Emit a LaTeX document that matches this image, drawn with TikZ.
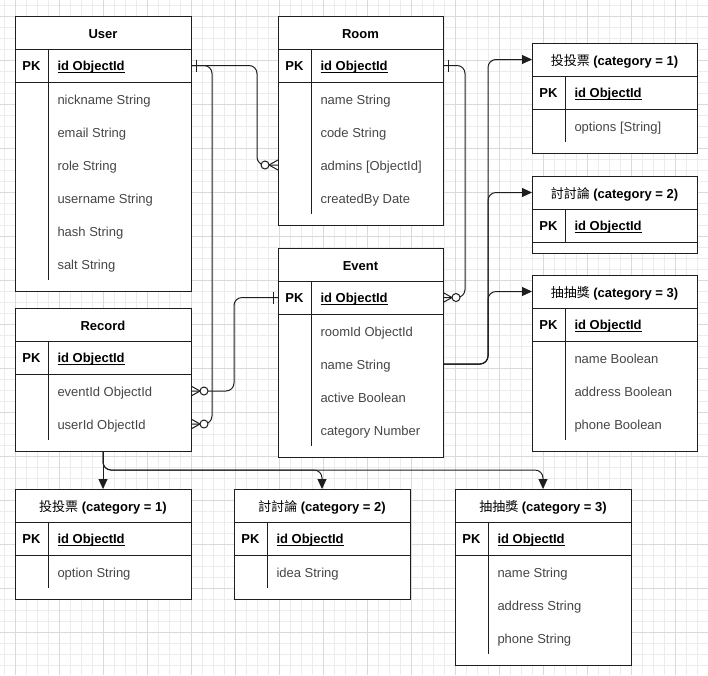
\documentclass[tikz,border=0pt]{standalone}
\usepackage{fontspec}
\setmainfont{Liberation Sans}
\newfontfamily\cjk{Noto Sans CJK TC}
\usetikzlibrary{arrows.meta,positioning}

\definecolor{gridminor}{RGB}{236,236,236}
\definecolor{gridmajor}{RGB}{218,218,218}
\definecolor{fieldgray}{RGB}{70,70,70}
\definecolor{edge}{RGB}{30,30,30}

\begin{document}
\begin{tikzpicture}[x=1pt, y=-1pt, line width=1pt, draw=edge,
  font=\fontsize{13}{15}\selectfont,
  head/.style={draw, fill=white, minimum height=33, inner sep=0pt, outer sep=0pt, text height=12.5pt, text depth=0pt, font=\fontsize{13}{15}\selectfont\bfseries},
  row/.style={draw, fill=white, minimum height=33, inner sep=0pt, outer sep=0pt},
  pk/.style={inner sep=0pt, text height=11.5pt, text depth=1pt, font=\fontsize{13}{15}\selectfont\bfseries},
  key/.style={anchor=west, inner sep=0pt, text height=11.5pt, text depth=1pt, font=\fontsize{13}{15}\selectfont\bfseries},
  field/.style={anchor=west, inner sep=0pt, text height=11.5pt, text depth=1pt, text=fieldgray},
  link/.style={draw=edge, rounded corners=8},
  flow/.style={draw=edge, rounded corners=8, -{Triangle[length=10pt, width=9pt]}},
  minorline/.style={line width=0.6pt, draw=gridminor},
  majorline/.style={line width=0.6pt, draw=gridmajor},
  onebar/.pic={\draw[edge] (5,-6) -- (5,6);},
  zeromany/.pic={
    \draw[edge] (0,-5) -- (9,0) -- (0,5);
    \draw[edge, fill=white] (13,0) circle (4);
  }]

  % Fix the page size
  \useasboundingbox (0,0) rectangle (708,675);

  % Background grid
  \foreach \x in {4,15,...,708} \draw[minorline] (\x,0) -- (\x,675);
  \foreach \y in {5,16,...,675} \draw[minorline] (0,\y) -- (708,\y);
  \foreach \x in {15,59,...,708} \draw[majorline] (\x,0) -- (\x,675);
  \foreach \y in {16,60,...,675} \draw[majorline] (0,\y) -- (708,\y);

  % User table
  \node[head, minimum width=176] (user) at (103,32.5) {User};
  \node[row, minimum width=176, below=0pt of user] (user-pk) {};
  \node[row, minimum width=176, minimum height=209, below=0pt of user-pk] (user-body) {};
  \node[pk] (user-pklabel) at ([xshift=16.5]user-pk.west) {PK};
  \node[key] (user-id) at ([xshift=42]user-pk.west) {\underline{\smash{id ObjectId}}};
  \draw ([xshift=33]user-pk.north west) -- ([xshift=33,yshift=11]user-body.south west);
  \foreach \f [count=\i] in {nickname String, email String, role String, username String, hash String, salt String}
    \node[field] (user-\i) at ([xshift=42,yshift=-33*\i+16]user-body.north west) {\f};

  % Room table
  \node[head, minimum width=165] (room) at (360.5,32.5) {Room};
  \node[row, minimum width=165, below=0pt of room] (room-pk) {};
  \node[row, minimum width=165, minimum height=143, below=0pt of room-pk] (room-body) {};
  \node[pk] (room-pklabel) at ([xshift=16.5]room-pk.west) {PK};
  \node[key] (room-id) at ([xshift=42]room-pk.west) {\underline{\smash{id ObjectId}}};
  \draw ([xshift=33]room-pk.north west) -- ([xshift=33,yshift=11]room-body.south west);
  \foreach \f [count=\i] in {name String, code String, admins [ObjectId], createdBy Date}
    \node[field] (room-\i) at ([xshift=42,yshift=-33*\i+16]room-body.north west) {\f};

  % Event table
  \node[head, minimum width=165] (event) at (360.5,264.5) {Event};
  \node[row, minimum width=165, below=0pt of event] (event-pk) {};
  \node[row, minimum width=165, minimum height=143, below=0pt of event-pk] (event-body) {};
  \node[pk] (event-pklabel) at ([xshift=16.5]event-pk.west) {PK};
  \node[key] (event-id) at ([xshift=42]event-pk.west) {\underline{\smash{id ObjectId}}};
  \draw ([xshift=33]event-pk.north west) -- ([xshift=33,yshift=11]event-body.south west);
  \foreach \f [count=\i] in {roomId ObjectId, name String, active Boolean, category Number}
    \node[field] (event-\i) at ([xshift=42,yshift=-33*\i+16]event-body.north west) {\f};

  % Record table
  \node[head, minimum width=176] (record) at (103,324.5) {Record};
  \node[row, minimum width=176, below=0pt of record] (record-pk) {};
  \node[row, minimum width=176, minimum height=77, below=0pt of record-pk] (record-body) {};
  \node[pk] (record-pklabel) at ([xshift=16.5]record-pk.west) {PK};
  \node[key] (record-id) at ([xshift=42]record-pk.west) {\underline{\smash{id ObjectId}}};
  \draw ([xshift=33]record-pk.north west) -- ([xshift=33,yshift=11]record-body.south west);
  \foreach \f [count=\i] in {eventId ObjectId, userId ObjectId}
    \node[field] (record-\i) at ([xshift=42,yshift=-33*\i+16]record-body.north west) {\f};

  % Event categories (right column)
  \node[head, minimum width=165] (evote) at (614.5,59.5) {{\cjk\mdseries 投投票} (category = 1)};
  \node[row, minimum width=165, below=0pt of evote] (evote-pk) {};
  \node[row, minimum width=165, minimum height=44, below=0pt of evote-pk] (evote-body) {};
  \node[pk] (evote-pklabel) at ([xshift=16.5]evote-pk.west) {PK};
  \node[key] (evote-id) at ([xshift=42]evote-pk.west) {\underline{\smash{id ObjectId}}};
  \draw ([xshift=33]evote-pk.north west) -- ([xshift=33,yshift=11]evote-body.south west);
  \node[field] (evote-1) at ([xshift=42,yshift=-17]evote-body.north west) {options [String]};

  \node[head, minimum width=165] (ediscuss) at (614.5,192.5) {{\cjk\mdseries 討討論} (category = 2)};
  \node[row, minimum width=165, below=0pt of ediscuss] (ediscuss-pk) {};
  \node[row, minimum width=165, minimum height=11, below=0pt of ediscuss-pk] (ediscuss-body) {};
  \node[pk] (ediscuss-pklabel) at ([xshift=16.5]ediscuss-pk.west) {PK};
  \node[key] (ediscuss-id) at ([xshift=42]ediscuss-pk.west) {\underline{\smash{id ObjectId}}};
  \draw ([xshift=33]ediscuss-pk.north west) -- ([xshift=33]ediscuss-pk.south west);

  \node[head, minimum width=165] (elottery) at (614.5,291.5) {{\cjk\mdseries 抽抽獎} (category = 3)};
  \node[row, minimum width=165, below=0pt of elottery] (elottery-pk) {};
  \node[row, minimum width=165, minimum height=110, below=0pt of elottery-pk] (elottery-body) {};
  \node[pk] (elottery-pklabel) at ([xshift=16.5]elottery-pk.west) {PK};
  \node[key] (elottery-id) at ([xshift=42]elottery-pk.west) {\underline{\smash{id ObjectId}}};
  \draw ([xshift=33]elottery-pk.north west) -- ([xshift=33,yshift=11]elottery-body.south west);
  \foreach \f [count=\i] in {name Boolean, address Boolean, phone Boolean}
    \node[field] (elottery-\i) at ([xshift=42,yshift=-33*\i+16]elottery-body.north west) {\f};

  % Record categories (bottom row)
  \node[head, minimum width=176] (rvote) at (103,505.5) {{\cjk\mdseries 投投票} (category = 1)};
  \node[row, minimum width=176, below=0pt of rvote] (rvote-pk) {};
  \node[row, minimum width=176, minimum height=44, below=0pt of rvote-pk] (rvote-body) {};
  \node[pk] (rvote-pklabel) at ([xshift=16.5]rvote-pk.west) {PK};
  \node[key] (rvote-id) at ([xshift=42]rvote-pk.west) {\underline{\smash{id ObjectId}}};
  \draw ([xshift=33]rvote-pk.north west) -- ([xshift=33,yshift=11]rvote-body.south west);
  \node[field] (rvote-1) at ([xshift=42,yshift=-17]rvote-body.north west) {option String};

  \node[head, minimum width=176] (rdiscuss) at (322,505.5) {{\cjk\mdseries 討討論} (category = 2)};
  \node[row, minimum width=176, below=0pt of rdiscuss] (rdiscuss-pk) {};
  \node[row, minimum width=176, minimum height=44, below=0pt of rdiscuss-pk] (rdiscuss-body) {};
  \node[pk] (rdiscuss-pklabel) at ([xshift=16.5]rdiscuss-pk.west) {PK};
  \node[key] (rdiscuss-id) at ([xshift=42]rdiscuss-pk.west) {\underline{\smash{id ObjectId}}};
  \draw ([xshift=33]rdiscuss-pk.north west) -- ([xshift=33,yshift=11]rdiscuss-body.south west);
  \node[field] (rdiscuss-1) at ([xshift=42,yshift=-17]rdiscuss-body.north west) {idea String};

  \node[head, minimum width=176] (rlottery) at (543,505.5) {{\cjk\mdseries 抽抽獎} (category = 3)};
  \node[row, minimum width=176, below=0pt of rlottery] (rlottery-pk) {};
  \node[row, minimum width=176, minimum height=110, below=0pt of rlottery-pk] (rlottery-body) {};
  \node[pk] (rlottery-pklabel) at ([xshift=16.5]rlottery-pk.west) {PK};
  \node[key] (rlottery-id) at ([xshift=42]rlottery-pk.west) {\underline{\smash{id ObjectId}}};
  \draw ([xshift=33]rlottery-pk.north west) -- ([xshift=33,yshift=11]rlottery-body.south west);
  \foreach \f [count=\i] in {name String, address String, phone String}
    \node[field] (rlottery-\i) at ([xshift=42,yshift=-33*\i+16]rlottery-body.north west) {\f};

  % Relations
  \draw[link] (user-pk.east) -- ++(66,0) |- (room-body.west |- room-3);
  \draw[link] (user-pk.east) -- ++(21,0) |- (record-body.east |- record-2);
  \draw[link] (event-pk.west) -- ++(-44,0) |- (record-body.east |- record-1);
  \draw[link] (room-pk.east) -- ++(22,0) |- (event-pk.east);

  % ER marks
  \pic at (user-pk.east) {onebar};
  \pic at (room-pk.east) {onebar};
  \pic[xscale=-1] at (event-pk.west) {onebar};
  \pic[xscale=-1] at (room-body.west |- room-3) {zeromany};
  \pic at (record-body.east |- record-1) {zeromany};
  \pic at (record-body.east |- record-2) {zeromany};
  \pic at (event-pk.east) {zeromany};

  % Category arrows
  \foreach \t in {evote, ediscuss, elottery}
    \draw[flow] (event-body.east |- event-2) -- ++(45,0) |- (\t.west);
  \draw[flow] (record-body.south) -- (rvote.north);
  \foreach \t in {rdiscuss, rlottery}
    \draw[flow] (record-body.south) -- ++(0,19) -| (\t.north);

\end{tikzpicture}
\end{document}
